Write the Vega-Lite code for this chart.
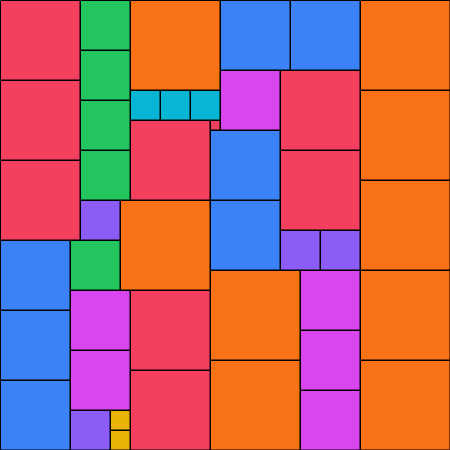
{
  "$schema": "https://vega.github.io/schema/vega-lite/v6.json",
  "width": 450,
  "height": 450,
  "padding": 0,
  "autosize": "none",
  "config": {"view": {"stroke": null}},
  "data": {"values": [
    {"x": 0, "y": 0, "x2": 80, "y2": 80, "g": "red"},
    {"x": 0, "y": 80, "x2": 80, "y2": 160, "g": "red"},
    {"x": 0, "y": 160, "x2": 80, "y2": 240, "g": "red"},
    {"x": 80, "y": 0, "x2": 130, "y2": 50, "g": "green"},
    {"x": 80, "y": 50, "x2": 130, "y2": 100, "g": "green"},
    {"x": 80, "y": 100, "x2": 130, "y2": 150, "g": "green"},
    {"x": 80, "y": 150, "x2": 130, "y2": 200, "g": "green"},
    {"x": 130, "y": 0, "x2": 220, "y2": 90, "g": "orange"},
    {"x": 130, "y": 90, "x2": 160, "y2": 120, "g": "cyan"},
    {"x": 160, "y": 90, "x2": 190, "y2": 120, "g": "cyan"},
    {"x": 190, "y": 90, "x2": 220, "y2": 120, "g": "cyan"},
    {"x": 130, "y": 120, "x2": 210, "y2": 200, "g": "red"},
    {"x": 210, "y": 120, "x2": 220, "y2": 130, "g": "red"},
    {"x": 220, "y": 0, "x2": 290, "y2": 70, "g": "blue"},
    {"x": 290, "y": 0, "x2": 360, "y2": 70, "g": "blue"},
    {"x": 220, "y": 70, "x2": 280, "y2": 130, "g": "magenta"},
    {"x": 280, "y": 70, "x2": 360, "y2": 150, "g": "red"},
    {"x": 280, "y": 150, "x2": 360, "y2": 230, "g": "red"},
    {"x": 210, "y": 130, "x2": 280, "y2": 200, "g": "blue"},
    {"x": 210, "y": 200, "x2": 280, "y2": 270, "g": "blue"},
    {"x": 280, "y": 230, "x2": 320, "y2": 270, "g": "purple"},
    {"x": 320, "y": 230, "x2": 360, "y2": 270, "g": "purple"},
    {"x": 360, "y": 0, "x2": 450, "y2": 90, "g": "orange"},
    {"x": 360, "y": 90, "x2": 450, "y2": 180, "g": "orange"},
    {"x": 360, "y": 180, "x2": 450, "y2": 270, "g": "orange"},
    {"x": 360, "y": 270, "x2": 450, "y2": 360, "g": "orange"},
    {"x": 360, "y": 360, "x2": 450, "y2": 450, "g": "orange"},
    {"x": 80, "y": 200, "x2": 120, "y2": 240, "g": "purple"},
    {"x": 120, "y": 200, "x2": 210, "y2": 290, "g": "orange"},
    {"x": 0, "y": 240, "x2": 70, "y2": 310, "g": "blue"},
    {"x": 0, "y": 310, "x2": 70, "y2": 380, "g": "blue"},
    {"x": 0, "y": 380, "x2": 70, "y2": 450, "g": "blue"},
    {"x": 70, "y": 240, "x2": 120, "y2": 290, "g": "green"},
    {"x": 70, "y": 290, "x2": 130, "y2": 350, "g": "magenta"},
    {"x": 70, "y": 350, "x2": 130, "y2": 410, "g": "magenta"},
    {"x": 70, "y": 410, "x2": 110, "y2": 450, "g": "purple"},
    {"x": 110, "y": 410, "x2": 130, "y2": 430, "g": "yellow"},
    {"x": 110, "y": 430, "x2": 130, "y2": 450, "g": "yellow"},
    {"x": 130, "y": 290, "x2": 210, "y2": 370, "g": "red"},
    {"x": 130, "y": 370, "x2": 210, "y2": 450, "g": "red"},
    {"x": 210, "y": 270, "x2": 300, "y2": 360, "g": "orange"},
    {"x": 210, "y": 360, "x2": 300, "y2": 450, "g": "orange"},
    {"x": 300, "y": 270, "x2": 360, "y2": 330, "g": "magenta"},
    {"x": 300, "y": 330, "x2": 360, "y2": 390, "g": "magenta"},
    {"x": 300, "y": 390, "x2": 360, "y2": 450, "g": "magenta"}
  ]},
  "mark": {"type": "rect", "stroke": "black", "strokeWidth": 1, "xOffset": 0.5, "yOffset": 0.5},
  "encoding": {
    "x": {"field": "x", "type": "quantitative", "scale": {"domain": [0, 450], "nice": false, "zero": false}, "axis": null},
    "x2": {"field": "x2"},
    "y": {"field": "y", "type": "quantitative", "scale": {"domain": [0, 450], "nice": false, "zero": false, "reverse": true}, "axis": null},
    "y2": {"field": "y2"},
    "color": {
      "field": "g", "type": "nominal", "legend": null,
      "scale": {
        "domain": ["red", "green", "orange", "cyan", "blue", "magenta", "purple", "yellow"],
        "range": ["#F43F5E", "#22C55E", "#F97316", "#06B6D4", "#3B82F6", "#D946EF", "#8B5CF6", "#EAB308"]
      }
    }
  }
}
